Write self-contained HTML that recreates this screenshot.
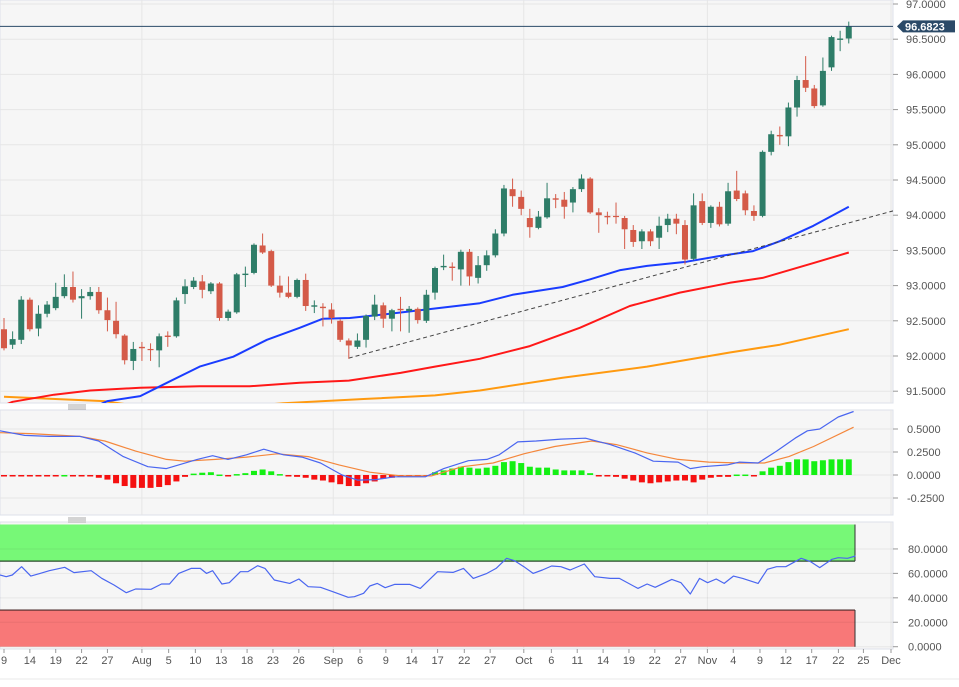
<!DOCTYPE html>
<html><head><meta charset="utf-8"><style>
html,body{margin:0;padding:0;background:#fff;width:959px;height:687px;overflow:hidden}
svg{display:block;font-family:"Liberation Sans",sans-serif}
</style></head><body>
<svg id="chart" width="959" height="687" viewBox="0 0 959 687" xmlns="http://www.w3.org/2000/svg"></svg>
<script>
// ---- data ----
const opens=[92.38,92.16,92.23,92.80,92.39,92.60,92.68,92.85,92.98,92.82,92.85,92.91,92.65,92.50,92.29,91.93,92.13,92.10,92.08,92.29,92.28,92.88,92.98,93.06,92.92,93.03,92.54,92.62,93.15,93.18,93.57,93.49,93.00,92.90,92.84,93.08,92.70,92.70,92.66,92.50,92.22,92.13,92.23,92.56,92.72,92.53,92.67,92.64,92.67,92.50,92.90,93.26,93.27,93.23,93.48,93.11,93.29,93.43,93.74,94.37,94.26,93.96,93.82,93.97,94.24,94.22,94.18,94.37,94.52,94.04,93.99,93.99,93.96,93.79,93.63,93.77,93.68,93.86,93.95,93.86,93.38,94.20,93.89,94.12,93.88,94.35,94.31,94.06,93.99,94.90,95.14,95.12,95.53,95.92,95.80,95.56,96.10,96.49,96.51];
const closes=[92.11,92.24,92.80,92.38,92.60,92.73,92.84,92.98,92.80,92.85,92.91,92.65,92.51,92.31,91.94,92.10,92.11,92.09,92.28,92.27,92.79,92.99,93.07,92.94,93.03,92.54,92.63,93.16,93.17,93.58,93.47,93.00,92.90,92.84,93.08,92.71,92.72,92.68,92.54,92.23,92.15,92.22,92.57,92.73,92.53,92.65,92.65,92.67,92.51,92.87,93.25,93.28,93.25,93.48,93.13,93.29,93.43,93.74,94.38,94.27,94.09,93.83,93.98,94.24,94.22,94.12,94.37,94.52,94.04,94.00,93.97,93.98,93.80,93.62,93.77,93.63,93.85,93.95,93.88,93.37,94.14,93.89,94.12,93.87,94.34,94.23,94.07,93.99,94.90,95.15,95.12,95.53,95.92,95.81,95.55,96.05,96.53,96.51,96.68];
const highs=[92.54,92.35,92.85,92.83,92.72,92.78,93.04,93.16,93.20,92.95,92.98,92.98,92.83,92.77,92.31,92.20,92.20,92.18,92.32,92.35,92.83,93.09,93.12,93.15,93.05,93.05,92.66,93.18,93.27,93.60,93.74,93.51,93.14,93.13,93.10,93.17,92.79,92.75,92.75,92.52,92.25,92.32,92.59,92.87,92.76,92.67,92.84,92.71,92.69,92.94,93.27,93.44,93.33,93.51,93.52,93.42,93.50,93.80,94.43,94.52,94.35,94.09,94.06,94.46,94.30,94.33,94.40,94.58,94.54,94.10,94.05,94.18,93.99,93.86,93.80,93.80,93.98,94.02,94.02,93.93,94.31,94.31,94.14,94.19,94.46,94.63,94.35,94.14,94.92,95.20,95.26,95.60,95.98,96.26,95.85,96.24,96.55,96.62,96.75];
const lows=[92.08,92.10,92.17,92.35,92.28,92.55,92.65,92.82,92.76,92.53,92.80,92.60,92.35,92.25,91.88,91.80,91.93,91.93,91.84,92.13,92.26,92.74,92.95,92.82,92.88,92.50,92.50,92.60,92.98,93.16,93.45,92.98,92.83,92.82,92.82,92.64,92.61,92.42,92.46,92.20,91.96,92.10,92.12,92.51,92.40,92.35,92.35,92.33,92.46,92.47,92.80,93.22,93.07,93.00,93.00,93.03,93.21,93.40,93.70,94.12,94.00,93.68,93.80,93.95,94.10,93.95,94.04,94.33,94.02,93.75,93.87,93.88,93.52,93.55,93.52,93.56,93.52,93.76,93.73,93.30,93.36,93.86,93.82,93.84,93.85,94.20,94.00,93.92,93.97,94.85,95.00,94.98,95.40,95.75,95.52,95.54,96.05,96.33,96.44];
const lastPrice=96.6823;
const ma50Idx=[10,12,15.8,18.9,22.7,26.6,30.5,34.3,37,40.1,44,49,55.2,59,64.8,68,71.5,74.6,79.2,83,86.9,90,93.9,98];
const ma50Vals=[91.25,91.36,91.43,91.62,91.85,91.99,92.23,92.40,92.53,92.54,92.59,92.66,92.75,92.87,92.98,93.09,93.22,93.28,93.34,93.42,93.49,93.63,93.85,94.12];
const ma100Idx=[0,1,5.8,10,15.8,22.7,28.5,34.3,40,46,50,55.2,61,66.8,72.6,78.4,84.2,88,93.9,98];
const ma100Vals=[91.30,91.35,91.45,91.51,91.55,91.57,91.57,91.62,91.65,91.76,91.85,91.96,92.14,92.40,92.71,92.90,93.04,93.11,93.32,93.47];
const ma200Idx=[0,11.6,15,22,28,32.4,42,50,55.2,64.8,74.6,84.2,90,98];
const ma200Vals=[91.42,91.36,91.30,91.25,91.28,91.33,91.39,91.44,91.51,91.69,91.85,92.05,92.16,92.38];
const trendIdx=[40,104];
const trendVals=[91.97,94.09];
const priceTicks=[97,96.5,96,95.5,95,94.5,94,93.5,93,92.5,92,91.5];
const macdHist=[-0.005,-0.01,-0.005,-0.01,-0.01,-0.01,-0.01,0,-0.005,-0.01,-0.01,-0.03,-0.05,-0.09,-0.12,-0.14,-0.14,-0.14,-0.13,-0.11,-0.07,-0.02,0.015,0.025,0.03,0.005,-0.005,0.01,0.02,0.045,0.06,0.04,0.01,-0.005,-0.02,-0.03,-0.05,-0.06,-0.08,-0.10,-0.12,-0.12,-0.09,-0.07,-0.04,-0.03,-0.02,-0.01,-0.01,-0.005,0.03,0.05,0.07,0.09,0.08,0.07,0.08,0.10,0.14,0.15,0.13,0.09,0.08,0.08,0.06,0.05,0.05,0.05,0.02,-0.005,-0.01,-0.02,-0.04,-0.06,-0.08,-0.09,-0.08,-0.07,-0.06,-0.06,-0.08,-0.05,-0.03,-0.02,-0.02,0.005,0.005,-0.005,0.04,0.08,0.10,0.14,0.17,0.17,0.15,0.16,0.17,0.17,0.17];
const macdZx=[0,40,80,130,160,200,240,270,320,345,370,400,428,460,490,520,555,580,610,640,690,720,760,790,810,840,870,910,950,990,1030,1060,1100,1120,1140,1180,1200,1230,1260,1290,1310,1330,1360,1385];
const macdVals=[0.48,0.43,0.42,0.42,0.37,0.20,0.09,0.07,0.17,0.21,0.17,0.22,0.28,0.22,0.195,0.13,0.0,-0.055,-0.05,-0.02,-0.02,0.07,0.155,0.17,0.22,0.36,0.37,0.39,0.40,0.33,0.24,0.15,0.14,0.07,0.09,0.11,0.14,0.13,0.26,0.40,0.48,0.50,0.63,0.69];
const sigZx=[0,50,130,170,220,270,300,350,400,450,500,550,600,650,700,750,800,850,900,960,1000,1050,1100,1150,1200,1240,1280,1320,1385];
const sigVals=[0.46,0.45,0.42,0.37,0.26,0.17,0.15,0.17,0.195,0.23,0.2,0.11,0.03,-0.01,-0.01,0.09,0.13,0.23,0.31,0.37,0.33,0.24,0.17,0.14,0.13,0.13,0.20,0.31,0.52];
const macdTicks=[0.5,0.25,0,-0.25];
const rsiZx=[0,10,20,35,50,65,80,105,120,148,165,185,205,220,245,262,275,290,310,325,335,345,360,372,390,402,418,430,445,470,485,500,520,540,565,575,590,600,612,625,640,665,682,710,735,752,768,790,805,822,835,850,865,880,895,910,925,948,965,990,1005,1035,1050,1063,1090,1105,1120,1135,1148,1162,1175,1190,1205,1230,1245,1260,1275,1300,1315,1330,1350,1360,1375,1388];
const rsiVals=[58.7,57.3,58.7,65.5,57.8,60,62.2,65,60.6,62.2,56,50.5,44.2,47.2,47,51.3,51.3,60,64.1,64.1,60,62.2,51.3,52.4,61.4,61.4,66.3,64.1,54.6,51.8,55.4,49.1,48.6,45,40.4,40.9,43.7,49.7,51.8,48.3,51,51,47.7,61.4,60.8,64.1,55.9,60,64.1,72.3,70.4,65.5,60,62.8,66,65.5,62.8,67.7,57.3,55.9,55.9,47.7,51.3,48.6,55.1,52.4,43.1,55.9,52.4,55.4,51.8,57.8,55.9,51.8,63.3,65.5,65.5,72.3,69.6,64.7,71.5,72.8,72.3,74.2];
const rsiTicks=[80,60,40,20,0];
const dateLabels=["9","14","19","22","27","Aug","5","10","13","18","23","26","Sep","6","9","14","17","22","27","Oct","6","11","14","19","22","27","Nov","4","9","12","17","22","25","Dec"];
const dateIdx=[0,3,6,9,12,16,19.1,22.2,25.2,28.2,31.2,34.2,38.2,41.3,44.3,47.3,50.3,53.4,56.4,60.3,63.5,66.5,69.5,72.5,75.5,78.5,81.6,84.6,87.7,90.7,93.7,96.8,99.7,102.9];
const monthIdx=[16,38.2,60.3,81.6,102.9];

// ---- scales ----
const NS='http://www.w3.org/2000/svg';
const svg=document.getElementById('chart');
const PR=893;
function xi(i){return 4+i*8.62;}
function zx2i(z){return (z/1.6225-4)/8.62;}
function yP(p){return 4+(97-p)*70.4;}
function yM(v){return 475-v*92;}
function yR(v){return 646.7-v*1.222;}
function mk(tag,attrs,parent){const e=document.createElementNS(NS,tag);for(const k in attrs)e.setAttribute(k,attrs[k]);(parent||svg).appendChild(e);return e;}
function fmt(v){return v.toFixed(4);}

const defs=mk('defs',{});
const c1=mk('clipPath',{id:'cp1'},defs);mk('rect',{x:0,y:0,width:PR,height:403},c1);
const c2=mk('clipPath',{id:'cp2'},defs);mk('rect',{x:0,y:410,width:PR,height:105},c2);
const c3=mk('clipPath',{id:'cp3'},defs);mk('rect',{x:0,y:522,width:PR,height:127},c3);

const p1=mk('rect',{x:0,y:0,width:PR,height:403,fill:'#f6f6f6',stroke:'#dde0ea'});


const p2=mk('rect',{x:0,y:410,width:PR,height:105,fill:'#f6f6f6',stroke:'#dde0ea'});


const p3=mk('rect',{x:0,y:522,width:PR,height:127,fill:'#f6f6f6',stroke:'#dde0ea'});



monthIdx.forEach(i=>{
  [[0,403],[410,515],[522,649]].forEach(r=>{
    const g=mk('line',{x1:xi(i),x2:xi(i),y1:r[0],y2:r[1],stroke:'#e6e6e6'});
    
    
  });
});

priceTicks.forEach(p=>{
  const y=yP(p);
  const g=mk('line',{x1:0,x2:PR,y1:y,y2:y,stroke:'#e6e6e6'});
  
  
  mk('line',{x1:PR,x2:PR+5,y1:y,y2:y,stroke:'#999'});
  const t=mk('text',{x:906,y:y+4,'font-size':11,fill:'#555'});t.textContent=fmt(p);
  
  
});

const gP=mk('g',{'clip-path':'url(#cp1)'});
function poly(idx,vals,yf,col,w,parent,name,dash){
  const pts=idx.map((i,k)=>xi(i).toFixed(1)+','+yf(vals[k]).toFixed(1)).join(' ');
  const e=mk('polyline',{points:pts,fill:'none',stroke:col,'stroke-width':w,'stroke-linejoin':'round'},parent);
  if(dash)e.setAttribute('stroke-dasharray',dash);
  
  
  return e;
}
poly(ma200Idx,ma200Vals,yP,'#ff9a10',2,gP,'sma-200-line');
poly(ma100Idx,ma100Vals,yP,'#ff1818',2,gP,'sma-100-line');
poly(ma50Idx,ma50Vals,yP,'#1a3cff',2,gP,'sma-50-line');
poly(trendIdx,trendVals,yP,'#444',1,gP,'support-trendline','4,3');

for(let i=0;i<opens.length;i++){
  const up=closes[i]>=opens[i];
  const col=up?'#2e7d68':'#d45a48';
  const x=xi(i);
  const w=mk('line',{x1:x,x2:x,y1:yP(highs[i]),y2:yP(lows[i]),stroke:col,'stroke-width':1},gP);
  
  
  const top=yP(Math.max(opens[i],closes[i])),bot=yP(Math.min(opens[i],closes[i]));
  const b=mk('rect',{x:x-3,y:top,width:6,height:Math.max(1.2,bot-top),fill:col},gP);
  
  
}

const ly=yP(lastPrice);
const ll=mk('line',{x1:0,x2:PR,y1:ly,y2:ly,stroke:'#2b4a68','stroke-width':1});


const lb=mk('path',{d:`M897 ${ly} L903 ${ly-6} L955 ${ly-6} L955 ${ly+6} L903 ${ly+6} Z`,fill:'#2b4a68'});


const lt=mk('text',{x:905,y:ly+4,'font-size':11,'font-weight':'bold',fill:'#fff'});lt.textContent=lastPrice.toFixed(4);



[405,518].forEach(y=>{
  const h=mk('g',{});
  
  
  [0,2,4].forEach(d=>mk('line',{x1:68,x2:86,y1:y+d,y2:y+d,stroke:'#aaa'},h));
});

macdTicks.forEach(v=>{
  const y=yM(v);
  const g=mk('line',{x1:0,x2:PR,y1:y,y2:y,stroke:'#e6e6e6'});
  
  
  mk('line',{x1:PR,x2:PR+5,y1:y,y2:y,stroke:'#999'});
  const t=mk('text',{x:907,y:y+4,'font-size':11,fill:'#555'});t.textContent=fmt(v);
  
  
});
const gM=mk('g',{'clip-path':'url(#cp2)'});
macdHist.forEach((v,i)=>{
  const y0=yM(0),y1=yM(v);
  const r=mk('rect',{x:xi(i)-3,y:Math.min(y0,y1),width:6,height:Math.max(1.5,Math.abs(y1-y0)),fill:v>=0?'#14f014':'#f51010'},gM);
  
  
});
poly(sigZx.map(zx2i),sigVals,yM,'#f4873c',1.2,gM,'macd-signal-line');
poly(macdZx.map(zx2i),macdVals,yM,'#4a66f0',1.2,gM,'macd-line');

const gR=mk('g',{'clip-path':'url(#cp3)'});
const ob=mk('rect',{x:0,y:yR(100),width:855,height:yR(70)-yR(100),fill:'#77f877'},gR);


mk('line',{x1:0,x2:855,y1:yR(70),y2:yR(70),stroke:'#2a4a2a','stroke-width':1.2},gR);
mk('line',{x1:855,x2:855,y1:yR(100),y2:yR(70),stroke:'#333'},gR);
const os=mk('rect',{x:0,y:yR(30),width:855,height:yR(0)-yR(30),fill:'#f87878'},gR);


mk('line',{x1:0,x2:855,y1:yR(30),y2:yR(30),stroke:'#4a2a2a','stroke-width':1.2},gR);
mk('line',{x1:855,x2:855,y1:yR(30),y2:yR(0),stroke:'#333'},gR);
rsiTicks.forEach(v=>{
  const y=yR(v);
  const g=mk('line',{x1:0,x2:PR,y1:y,y2:y,stroke:'rgba(0,0,0,0.06)'},gR);
  
  
  mk('line',{x1:PR,x2:PR+5,y1:y,y2:y,stroke:'#999'});
  const t=mk('text',{x:908,y:y+4,'font-size':11,fill:'#555'});t.textContent=fmt(v);
  
  
});
poly(rsiZx.map(zx2i),rsiVals,yR,'#4a66f0',1.2,gR,'rsi-line');

dateLabels.forEach((l,k)=>{
  const x=xi(dateIdx[k]);
  mk('line',{x1:x,x2:x,y1:649,y2:653,stroke:'#999'});
  const t=mk('text',{x:x,y:664,'font-size':11,fill:'#555','text-anchor':'middle'});t.textContent=l;
  
  
});
const bl=mk('line',{x1:0,x2:959,y1:679,y2:679,stroke:'#e8e8e8'});


</script>
</body></html>
